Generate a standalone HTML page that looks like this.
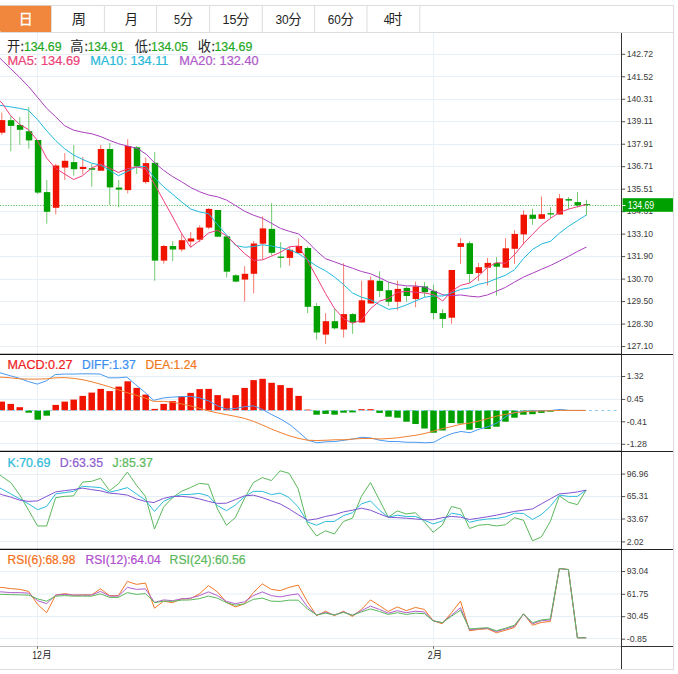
<!DOCTYPE html>
<html><head><meta charset="utf-8"><title>chart</title>
<style>html,body{margin:0;padding:0;background:#fff;}svg{display:block;}body{font-family:"Liberation Sans",sans-serif;}</style>
</head><body>
<svg width="678" height="674" viewBox="0 0 678 674" font-family="'Liberation Sans', 'Noto Sans CJK SC', sans-serif">
<rect x="0" y="0" width="678" height="674" fill="#ffffff" />
<line x1="0" y1="5.5" x2="674" y2="5.5" stroke="#dddddd" stroke-width="1" />
<line x1="673.5" y1="5" x2="673.5" y2="670" stroke="#dddddd" stroke-width="1" />
<line x1="0" y1="669.5" x2="674" y2="669.5" stroke="#dddddd" stroke-width="1" />
<line x1="0" y1="32.5" x2="674" y2="32.5" stroke="#dddddd" stroke-width="1" />
<path d="M0 5.8 H51.4 V31 Q51.4 32 50.4 32 H1.5 Q0 32 0 30.5 Z" fill="#f0873c"/>
<line x1="51.5" y1="6" x2="51.5" y2="32" stroke="#dddddd" stroke-width="1" />
<line x1="104.4" y1="6" x2="104.4" y2="32" stroke="#dddddd" stroke-width="1" />
<line x1="156.6" y1="6" x2="156.6" y2="32" stroke="#dddddd" stroke-width="1" />
<line x1="209.6" y1="6" x2="209.6" y2="32" stroke="#dddddd" stroke-width="1" />
<line x1="262.3" y1="6" x2="262.3" y2="32" stroke="#dddddd" stroke-width="1" />
<line x1="314.6" y1="6" x2="314.6" y2="32" stroke="#dddddd" stroke-width="1" />
<line x1="367" y1="6" x2="367" y2="32" stroke="#dddddd" stroke-width="1" />
<line x1="419.8" y1="6" x2="419.8" y2="32" stroke="#dddddd" stroke-width="1" />
<text x="18.73" y="24.2" font-size="14" fill="#ffffff" text-anchor="start" stroke="#ffffff" stroke-width="0.3">日</text>
<text x="71.82" y="24.2" font-size="14.2" fill="#222222" text-anchor="start">周</text>
<text x="124.72" y="24.2" font-size="13.3" fill="#222222" text-anchor="start">月</text>
<text x="179.7" y="23.9" font-size="13.4" fill="#222222" text-anchor="start">分</text>
<text x="174.1" y="24.3" font-size="12.8" fill="#222222" text-anchor="start" textLength="6" lengthAdjust="spacingAndGlyphs" >5</text>
<text x="236.1" y="23.9" font-size="13.4" fill="#222222" text-anchor="start">分</text>
<text x="222.5" y="24.3" font-size="12.8" fill="#222222" text-anchor="start" textLength="14" lengthAdjust="spacingAndGlyphs" >15</text>
<text x="288.3" y="23.9" font-size="13.4" fill="#222222" text-anchor="start">分</text>
<text x="275.4" y="24.3" font-size="12.8" fill="#222222" text-anchor="start" textLength="13.3" lengthAdjust="spacingAndGlyphs" >30</text>
<text x="340.4" y="23.9" font-size="13.4" fill="#222222" text-anchor="start">分</text>
<text x="327.8" y="24.3" font-size="12.8" fill="#222222" text-anchor="start" textLength="13" lengthAdjust="spacingAndGlyphs" >60</text>
<text x="388.55" y="24.05" font-size="13.8" fill="#222222" text-anchor="start">时</text>
<text x="383.7" y="24.3" font-size="12.8" fill="#222222" text-anchor="start" textLength="5.8" lengthAdjust="spacingAndGlyphs" >4</text>
<line x1="0" y1="54.5" x2="621" y2="54.5" stroke="#e6eff6" stroke-width="1" />
<line x1="0" y1="76.5" x2="621" y2="76.5" stroke="#e6eff6" stroke-width="1" />
<line x1="0" y1="99.5" x2="621" y2="99.5" stroke="#e6eff6" stroke-width="1" />
<line x1="0" y1="121.5" x2="621" y2="121.5" stroke="#e6eff6" stroke-width="1" />
<line x1="0" y1="144.5" x2="621" y2="144.5" stroke="#e6eff6" stroke-width="1" />
<line x1="0" y1="166.5" x2="621" y2="166.5" stroke="#e6eff6" stroke-width="1" />
<line x1="0" y1="189.5" x2="621" y2="189.5" stroke="#e6eff6" stroke-width="1" />
<line x1="0" y1="211.5" x2="621" y2="211.5" stroke="#e6eff6" stroke-width="1" />
<line x1="0" y1="234.5" x2="621" y2="234.5" stroke="#e6eff6" stroke-width="1" />
<line x1="0" y1="256.5" x2="621" y2="256.5" stroke="#e6eff6" stroke-width="1" />
<line x1="0" y1="279.5" x2="621" y2="279.5" stroke="#e6eff6" stroke-width="1" />
<line x1="0" y1="301.5" x2="621" y2="301.5" stroke="#e6eff6" stroke-width="1" />
<line x1="0" y1="324.5" x2="621" y2="324.5" stroke="#e6eff6" stroke-width="1" />
<line x1="0" y1="346.5" x2="621" y2="346.5" stroke="#e6eff6" stroke-width="1" />
<line x1="0" y1="376.5" x2="621" y2="376.5" stroke="#e6eff6" stroke-width="1" />
<line x1="0" y1="399.5" x2="621" y2="399.5" stroke="#e6eff6" stroke-width="1" />
<line x1="0" y1="421.5" x2="621" y2="421.5" stroke="#e6eff6" stroke-width="1" />
<line x1="0" y1="443.5" x2="621" y2="443.5" stroke="#e6eff6" stroke-width="1" />
<line x1="0" y1="474.5" x2="621" y2="474.5" stroke="#e6eff6" stroke-width="1" />
<line x1="0" y1="496.5" x2="621" y2="496.5" stroke="#e6eff6" stroke-width="1" />
<line x1="0" y1="519.5" x2="621" y2="519.5" stroke="#e6eff6" stroke-width="1" />
<line x1="0" y1="541.5" x2="621" y2="541.5" stroke="#e6eff6" stroke-width="1" />
<line x1="0" y1="571.5" x2="621" y2="571.5" stroke="#e6eff6" stroke-width="1" />
<line x1="0" y1="594" x2="621" y2="594" stroke="#e6eff6" stroke-width="1" />
<line x1="0" y1="616.5" x2="621" y2="616.5" stroke="#e6eff6" stroke-width="1" />
<line x1="0" y1="638.5" x2="621" y2="638.5" stroke="#e6eff6" stroke-width="1" />
<line x1="37.5" y1="33" x2="37.5" y2="646" stroke="#eaf2f8" stroke-width="1" />
<line x1="433.5" y1="33" x2="433.5" y2="646" stroke="#eaf2f8" stroke-width="1" />
<line x1="0" y1="205.5" x2="621" y2="205.5" stroke="#4cba4c" stroke-width="1" stroke-dasharray="1.05 1.63"/>
<line x1="1.8" y1="112.6" x2="1.8" y2="134.9" stroke="#f01400" stroke-width="1" stroke-opacity="0.56"/>
<rect x="-1.15" y="120.1" width="6.45" height="12.6" fill="#f01400" />
<line x1="10.79" y1="116" x2="10.79" y2="151.3" stroke="#00a000" stroke-width="1" stroke-opacity="0.56"/>
<rect x="7.84" y="120.2" width="6.45" height="5.7" fill="#00a000" />
<line x1="19.79" y1="117.1" x2="19.79" y2="144.8" stroke="#00a000" stroke-width="1" stroke-opacity="0.56"/>
<rect x="16.84" y="125" width="6.45" height="4.8" fill="#00a000" />
<line x1="28.79" y1="107" x2="28.79" y2="148.6" stroke="#00a000" stroke-width="1" stroke-opacity="0.56"/>
<rect x="25.84" y="131.2" width="6.45" height="9.2" fill="#00a000" />
<line x1="37.78" y1="140" x2="37.78" y2="194" stroke="#00a000" stroke-width="1" stroke-opacity="0.56"/>
<rect x="34.83" y="140" width="6.45" height="52.6" fill="#00a000" />
<line x1="46.77" y1="180" x2="46.77" y2="223.7" stroke="#00a000" stroke-width="1" stroke-opacity="0.56"/>
<rect x="43.82" y="192.1" width="6.45" height="19.7" fill="#00a000" />
<line x1="55.77" y1="163.8" x2="55.77" y2="214.3" stroke="#f01400" stroke-width="1" stroke-opacity="0.56"/>
<rect x="52.82" y="165.5" width="6.45" height="42.3" fill="#f01400" />
<line x1="64.77" y1="153.1" x2="64.77" y2="180" stroke="#f01400" stroke-width="1" stroke-opacity="0.56"/>
<rect x="61.81" y="160.8" width="6.45" height="6.8" fill="#f01400" />
<line x1="73.76" y1="145" x2="73.76" y2="175.7" stroke="#00a000" stroke-width="1" stroke-opacity="0.56"/>
<rect x="70.81" y="162.1" width="6.45" height="7.1" fill="#00a000" />
<line x1="82.75" y1="156.8" x2="82.75" y2="174.5" stroke="#f01400" stroke-width="1" stroke-opacity="0.56"/>
<rect x="79.8" y="166.9" width="6.45" height="2.1" fill="#f01400" />
<line x1="91.75" y1="163.6" x2="91.75" y2="186.6" stroke="#00a000" stroke-width="1" stroke-opacity="0.56"/>
<rect x="88.8" y="168.2" width="6.45" height="1.5" fill="#00a000" />
<line x1="100.74" y1="145" x2="100.74" y2="170.7" stroke="#f01400" stroke-width="1" stroke-opacity="0.56"/>
<rect x="97.79" y="149" width="6.45" height="21.7" fill="#f01400" />
<line x1="109.74" y1="143" x2="109.74" y2="204.8" stroke="#00a000" stroke-width="1" stroke-opacity="0.56"/>
<rect x="106.79" y="149" width="6.45" height="38.4" fill="#00a000" />
<line x1="118.73" y1="180" x2="118.73" y2="207.3" stroke="#00a000" stroke-width="1" stroke-opacity="0.56"/>
<rect x="115.78" y="187.6" width="6.45" height="2" fill="#00a000" />
<line x1="127.73" y1="139.2" x2="127.73" y2="193.4" stroke="#f01400" stroke-width="1" stroke-opacity="0.56"/>
<rect x="124.78" y="146" width="6.45" height="44.1" fill="#f01400" />
<line x1="136.72" y1="146" x2="136.72" y2="174" stroke="#00a000" stroke-width="1" stroke-opacity="0.56"/>
<rect x="133.78" y="147.3" width="6.45" height="19.1" fill="#00a000" />
<line x1="145.72" y1="157.6" x2="145.72" y2="183.8" stroke="#f01400" stroke-width="1" stroke-opacity="0.56"/>
<rect x="142.77" y="163.1" width="6.45" height="19" fill="#f01400" />
<line x1="154.72" y1="152" x2="154.72" y2="280.8" stroke="#00a000" stroke-width="1" stroke-opacity="0.56"/>
<rect x="151.77" y="162.8" width="6.45" height="97.8" fill="#00a000" />
<line x1="163.71" y1="244.8" x2="163.71" y2="263.7" stroke="#f01400" stroke-width="1" stroke-opacity="0.56"/>
<rect x="160.76" y="246" width="6.45" height="14.6" fill="#f01400" />
<line x1="172.7" y1="241" x2="172.7" y2="261.1" stroke="#00a000" stroke-width="1" stroke-opacity="0.56"/>
<rect x="169.75" y="246" width="6.45" height="3.5" fill="#00a000" />
<line x1="181.7" y1="233.4" x2="181.7" y2="251.6" stroke="#f01400" stroke-width="1" stroke-opacity="0.56"/>
<rect x="178.75" y="240.2" width="6.45" height="9.3" fill="#f01400" />
<line x1="190.69" y1="232.1" x2="190.69" y2="247.3" stroke="#f01400" stroke-width="1" stroke-opacity="0.56"/>
<rect x="187.75" y="238.4" width="6.45" height="3.1" fill="#f01400" />
<line x1="199.69" y1="225.3" x2="199.69" y2="242.2" stroke="#f01400" stroke-width="1" stroke-opacity="0.56"/>
<rect x="196.74" y="227.6" width="6.45" height="12.1" fill="#f01400" />
<line x1="208.69" y1="208.2" x2="208.69" y2="229.1" stroke="#f01400" stroke-width="1" stroke-opacity="0.56"/>
<rect x="205.74" y="208.9" width="6.45" height="18.7" fill="#f01400" />
<line x1="217.68" y1="210" x2="217.68" y2="237.2" stroke="#00a000" stroke-width="1" stroke-opacity="0.56"/>
<rect x="214.73" y="210" width="6.45" height="26.7" fill="#00a000" />
<line x1="226.67" y1="235.4" x2="226.67" y2="277.5" stroke="#00a000" stroke-width="1" stroke-opacity="0.56"/>
<rect x="223.72" y="236.4" width="6.45" height="35.3" fill="#00a000" />
<line x1="235.67" y1="274.3" x2="235.67" y2="282.1" stroke="#00a000" stroke-width="1" stroke-opacity="0.56"/>
<rect x="232.72" y="275.3" width="6.45" height="6.3" fill="#00a000" />
<line x1="244.66" y1="266.2" x2="244.66" y2="301.5" stroke="#f01400" stroke-width="1" stroke-opacity="0.56"/>
<rect x="241.72" y="273.8" width="6.45" height="5.8" fill="#f01400" />
<line x1="253.66" y1="241" x2="253.66" y2="293.4" stroke="#f01400" stroke-width="1" stroke-opacity="0.56"/>
<rect x="250.71" y="243.5" width="6.45" height="30.3" fill="#f01400" />
<line x1="262.65" y1="216.3" x2="262.65" y2="259.9" stroke="#f01400" stroke-width="1" stroke-opacity="0.56"/>
<rect x="259.7" y="228.4" width="6.45" height="15.3" fill="#f01400" />
<line x1="271.65" y1="203.1" x2="271.65" y2="255.3" stroke="#00a000" stroke-width="1" stroke-opacity="0.56"/>
<rect x="268.7" y="228.9" width="6.45" height="23.9" fill="#00a000" />
<line x1="280.64" y1="242.2" x2="280.64" y2="267.7" stroke="#00a000" stroke-width="1" stroke-opacity="0.56"/>
<rect x="277.69" y="256.6" width="6.45" height="1.3" fill="#00a000" />
<line x1="289.64" y1="246.5" x2="289.64" y2="265.7" stroke="#f01400" stroke-width="1" stroke-opacity="0.56"/>
<rect x="286.69" y="249.8" width="6.45" height="8.1" fill="#f01400" />
<line x1="298.63" y1="238.4" x2="298.63" y2="253.1" stroke="#f01400" stroke-width="1" stroke-opacity="0.56"/>
<rect x="295.69" y="246" width="6.45" height="7.1" fill="#f01400" />
<line x1="307.63" y1="246.3" x2="307.63" y2="313.1" stroke="#00a000" stroke-width="1" stroke-opacity="0.56"/>
<rect x="304.68" y="248" width="6.45" height="58.8" fill="#00a000" />
<line x1="316.62" y1="303" x2="316.62" y2="339.6" stroke="#00a000" stroke-width="1" stroke-opacity="0.56"/>
<rect x="313.68" y="306" width="6.45" height="26.5" fill="#00a000" />
<line x1="325.62" y1="313.1" x2="325.62" y2="343.9" stroke="#f01400" stroke-width="1" stroke-opacity="0.56"/>
<rect x="322.67" y="321.2" width="6.45" height="13.4" fill="#f01400" />
<line x1="334.62" y1="308" x2="334.62" y2="329.5" stroke="#00a000" stroke-width="1" stroke-opacity="0.56"/>
<rect x="331.67" y="321.2" width="6.45" height="7.1" fill="#00a000" />
<line x1="343.61" y1="263.2" x2="343.61" y2="337.6" stroke="#f01400" stroke-width="1" stroke-opacity="0.56"/>
<rect x="340.66" y="314.1" width="6.45" height="15.4" fill="#f01400" />
<line x1="352.6" y1="313.1" x2="352.6" y2="333.8" stroke="#00a000" stroke-width="1" stroke-opacity="0.56"/>
<rect x="349.65" y="314.1" width="6.45" height="8.4" fill="#00a000" />
<line x1="361.6" y1="280.8" x2="361.6" y2="322.5" stroke="#f01400" stroke-width="1" stroke-opacity="0.56"/>
<rect x="358.65" y="300.3" width="6.45" height="22.2" fill="#f01400" />
<line x1="370.59" y1="276.6" x2="370.59" y2="303.5" stroke="#f01400" stroke-width="1" stroke-opacity="0.56"/>
<rect x="367.64" y="280.3" width="6.45" height="23.2" fill="#f01400" />
<line x1="379.59" y1="271.3" x2="379.59" y2="297.2" stroke="#00a000" stroke-width="1" stroke-opacity="0.56"/>
<rect x="376.64" y="280.8" width="6.45" height="10.1" fill="#00a000" />
<line x1="388.58" y1="282.1" x2="388.58" y2="306.1" stroke="#00a000" stroke-width="1" stroke-opacity="0.56"/>
<rect x="385.63" y="290.2" width="6.45" height="11.6" fill="#00a000" />
<line x1="397.58" y1="280.8" x2="397.58" y2="310.3" stroke="#f01400" stroke-width="1" stroke-opacity="0.56"/>
<rect x="394.63" y="288.9" width="6.45" height="12.9" fill="#f01400" />
<line x1="406.57" y1="286.6" x2="406.57" y2="301.8" stroke="#00a000" stroke-width="1" stroke-opacity="0.56"/>
<rect x="403.62" y="287.9" width="6.45" height="8.1" fill="#00a000" />
<line x1="415.57" y1="281.6" x2="415.57" y2="307.3" stroke="#f01400" stroke-width="1" stroke-opacity="0.56"/>
<rect x="412.62" y="286.4" width="6.45" height="12.6" fill="#f01400" />
<line x1="424.56" y1="282.1" x2="424.56" y2="297.2" stroke="#00a000" stroke-width="1" stroke-opacity="0.56"/>
<rect x="421.62" y="286.4" width="6.45" height="5.8" fill="#00a000" />
<line x1="433.56" y1="284.6" x2="433.56" y2="319.4" stroke="#00a000" stroke-width="1" stroke-opacity="0.56"/>
<rect x="430.61" y="290.9" width="6.45" height="22.2" fill="#00a000" />
<line x1="442.55" y1="309.1" x2="442.55" y2="328" stroke="#00a000" stroke-width="1" stroke-opacity="0.56"/>
<rect x="439.6" y="313.1" width="6.45" height="5.8" fill="#00a000" />
<line x1="451.55" y1="270" x2="451.55" y2="323.8" stroke="#f01400" stroke-width="1" stroke-opacity="0.56"/>
<rect x="448.6" y="270" width="6.45" height="47.7" fill="#f01400" />
<line x1="460.54" y1="238.1" x2="460.54" y2="263.9" stroke="#f01400" stroke-width="1" stroke-opacity="0.56"/>
<rect x="457.59" y="243.1" width="6.45" height="3.8" fill="#f01400" />
<line x1="469.54" y1="241.2" x2="469.54" y2="283.1" stroke="#00a000" stroke-width="1" stroke-opacity="0.56"/>
<rect x="466.59" y="243.2" width="6.45" height="30.8" fill="#00a000" />
<line x1="478.53" y1="262.9" x2="478.53" y2="281.1" stroke="#f01400" stroke-width="1" stroke-opacity="0.56"/>
<rect x="475.58" y="267.2" width="6.45" height="5.8" fill="#f01400" />
<line x1="487.53" y1="257.9" x2="487.53" y2="285.6" stroke="#f01400" stroke-width="1" stroke-opacity="0.56"/>
<rect x="484.58" y="262.9" width="6.45" height="4.8" fill="#f01400" />
<line x1="496.52" y1="257.1" x2="496.52" y2="295.7" stroke="#00a000" stroke-width="1" stroke-opacity="0.56"/>
<rect x="493.57" y="262.9" width="6.45" height="3.8" fill="#00a000" />
<line x1="505.52" y1="238.2" x2="505.52" y2="267.7" stroke="#f01400" stroke-width="1" stroke-opacity="0.56"/>
<rect x="502.57" y="248.3" width="6.45" height="19.4" fill="#f01400" />
<line x1="514.51" y1="230.1" x2="514.51" y2="263.9" stroke="#f01400" stroke-width="1" stroke-opacity="0.56"/>
<rect x="511.56" y="233.9" width="6.45" height="14.9" fill="#f01400" />
<line x1="523.51" y1="210.4" x2="523.51" y2="244.5" stroke="#f01400" stroke-width="1" stroke-opacity="0.56"/>
<rect x="520.56" y="214.7" width="6.45" height="19.7" fill="#f01400" />
<line x1="532.5" y1="208.7" x2="532.5" y2="224.8" stroke="#00a000" stroke-width="1" stroke-opacity="0.56"/>
<rect x="529.55" y="214.7" width="6.45" height="4.1" fill="#00a000" />
<line x1="541.5" y1="196.6" x2="541.5" y2="218.8" stroke="#f01400" stroke-width="1" stroke-opacity="0.56"/>
<rect x="538.55" y="214.2" width="6.45" height="4.6" fill="#f01400" />
<line x1="550.49" y1="207.2" x2="550.49" y2="218" stroke="#00a000" stroke-width="1" stroke-opacity="0.56"/>
<rect x="547.54" y="213.2" width="6.45" height="1.3" fill="#00a000" />
<line x1="559.49" y1="194" x2="559.49" y2="214.5" stroke="#f01400" stroke-width="1" stroke-opacity="0.56"/>
<rect x="556.54" y="198.3" width="6.45" height="16.2" fill="#f01400" />
<line x1="568.48" y1="197.1" x2="568.48" y2="209.2" stroke="#00a000" stroke-width="1" stroke-opacity="0.56"/>
<rect x="565.53" y="199.1" width="6.45" height="1.5" fill="#00a000" />
<line x1="577.48" y1="192" x2="577.48" y2="207.4" stroke="#00a000" stroke-width="1" stroke-opacity="0.56"/>
<rect x="574.53" y="202.1" width="6.45" height="3.3" fill="#00a000" />
<line x1="586.47" y1="199.8" x2="586.47" y2="215.5" stroke="#00a000" stroke-width="1" stroke-opacity="0.56"/>
<rect x="583.52" y="204.1" width="6.45" height="1" fill="#00a000" />
<polyline points="0,58.2 10.7,68.7 19.1,76.8 28.5,86.5 37.8,97.6 46.7,108.3 55.64,116.77 64.54,125.67 73.44,130.12 83.09,132.34 91.99,133.83 100.88,136.66 109.71,140.44 118.54,143.72 127.36,145.99 137.45,148.51 146.28,154.31 154.54,162.79 163.62,170.35 172.7,176.66 181.53,181.7 190.61,187.5 199.68,191.79 208.76,195.07 217.59,196.83 226.67,200.11 235.75,205.66 244.58,211.21 253.66,215.25 262.48,218.27 271.56,223.32 280.39,228.36 289.47,231.39 298.55,233.91 307.57,241.75 316.65,251.08 325.47,258.64 334.55,261.92 343.63,265.2 352.46,268.23 361.54,271.51 370.62,273.78 379.7,277.81 388.52,282.1 397.6,284.62 406.68,285.88 415.51,285.88 424.59,287.14 433.67,290.93 442.75,294.71 451.51,295.69 460.59,294.93 469.67,296.19 478.5,296.95 487.58,294.93 496.66,291.15 505.49,287.36 514.56,282.07 523.64,277.02 532.47,273.24 541.55,269.21 550.63,265.42 559.46,261.01 568.54,256.34 577.62,251.42 586.44,247.01" fill="none" stroke="#aa3fbe" stroke-width="1" stroke-linejoin="round" />
<polyline points="0,105.34 10.39,106.82 19.29,108.31 28.19,110.09 37.54,119.73 46.74,130.86 55.64,140.5 64.54,148.66 73.64,155.07 82.47,159.36 91.55,163.14 100.63,165.16 109.46,170.2 118.54,175.75 127.62,171.21 136.44,166.92 145.52,166.42 154.54,177.92 163.62,186.75 172.7,194.31 181.53,201.88 190.61,208.94 199.68,211.97 208.76,213.73 217.59,224.83 226.67,235.17 235.75,245.51 244.58,247.28 253.66,246.52 262.48,244.75 271.56,246.02 280.39,247.78 289.47,249.8 298.55,253.58 307.57,259.91 316.65,266.21 325.47,270.75 334.55,277.06 343.63,284.62 352.46,292.94 361.54,297.23 370.62,299.75 379.7,304.8 388.52,309.34 397.6,308.08 406.68,304.8 415.51,301.02 424.59,297.23 433.67,295.97 442.75,295.97 451.51,292.91 460.59,289.38 469.67,287.87 478.5,284.34 487.58,282.32 496.66,278.54 505.49,275.26 514.56,269.71 523.64,258.36 532.47,249.53 541.55,243.98 550.63,241.21 559.46,233.14 568.54,226.33 577.62,220.53 586.44,214.98" fill="none" stroke="#1eb9dc" stroke-width="1" stroke-linejoin="round" />
<polyline points="0,101.19 1.78,102.67 10.39,115.28 19.29,124.18 28.19,129.38 37.54,140.5 46.66,158.1 55.49,168.18 64.56,173.98 73.64,179.53 82.47,175.75 91.55,168.18 100.63,163.9 109.46,168.18 118.54,172.47 127.62,168.69 136.44,166.92 145.52,168.69 154.54,184.22 163.62,200.62 172.7,217.01 181.53,233.4 190.61,247.28 199.68,240.47 208.76,232.9 217.59,230.38 226.67,235.93 235.75,244.75 244.58,253.58 253.66,260.39 262.48,259.89 271.56,256.1 280.39,252.32 289.47,246.77 298.55,246.02 307.57,260.66 316.65,277.06 325.47,293.45 334.55,308.58 343.63,318.67 352.46,323.21 361.54,319.93 370.62,308.58 379.7,301.02 388.52,298.49 397.6,292.19 406.68,291.43 415.51,292.19 424.59,292.94 433.67,294.71 442.75,301.02 451.51,291.15 460.59,285.35 469.67,283.08 478.5,276.02 487.58,267.19 496.66,262.65 505.49,263.4 514.56,254.58 523.64,243.48 532.47,234.4 541.55,225.07 550.63,218.26 559.46,212.46 568.54,209.18 577.62,206.66 586.44,204.64" fill="none" stroke="#ee3d7f" stroke-width="1" stroke-linejoin="round" />
<rect x="-1.5" y="401.6" width="6.5" height="8.8" fill="#f01400" />
<rect x="7.5" y="403.9" width="6.5" height="6.5" fill="#f01400" />
<rect x="16.49" y="407.2" width="6.5" height="3.2" fill="#f01400" />
<rect x="25.48" y="410.4" width="6.5" height="2.3" fill="#00a000" />
<rect x="34.48" y="410.4" width="6.5" height="9.3" fill="#00a000" />
<rect x="43.47" y="410.4" width="6.5" height="5.3" fill="#00a000" />
<rect x="52.47" y="404.9" width="6.5" height="5.5" fill="#f01400" />
<rect x="61.47" y="401.6" width="6.5" height="8.8" fill="#f01400" />
<rect x="70.46" y="399.6" width="6.5" height="10.8" fill="#f01400" />
<rect x="79.45" y="395.9" width="6.5" height="14.5" fill="#f01400" />
<rect x="88.45" y="392.6" width="6.5" height="17.8" fill="#f01400" />
<rect x="97.44" y="388.9" width="6.5" height="21.5" fill="#f01400" />
<rect x="106.44" y="391.1" width="6.5" height="19.3" fill="#f01400" />
<rect x="115.43" y="386.6" width="6.5" height="23.8" fill="#f01400" />
<rect x="124.43" y="381.3" width="6.5" height="29.1" fill="#f01400" />
<rect x="133.42" y="387.9" width="6.5" height="22.5" fill="#f01400" />
<rect x="142.42" y="394.6" width="6.5" height="15.8" fill="#f01400" />
<rect x="151.41" y="408.9" width="6.5" height="1.5" fill="#f01400" />
<rect x="160.41" y="403.9" width="6.5" height="6.5" fill="#f01400" />
<rect x="169.4" y="401.1" width="6.5" height="9.3" fill="#f01400" />
<rect x="178.4" y="396.4" width="6.5" height="14" fill="#f01400" />
<rect x="187.39" y="392.9" width="6.5" height="17.5" fill="#f01400" />
<rect x="196.39" y="389.1" width="6.5" height="21.3" fill="#f01400" />
<rect x="205.38" y="388.9" width="6.5" height="21.5" fill="#f01400" />
<rect x="214.38" y="395.1" width="6.5" height="15.3" fill="#f01400" />
<rect x="223.37" y="398.4" width="6.5" height="12" fill="#f01400" />
<rect x="232.37" y="395.1" width="6.5" height="15.3" fill="#f01400" />
<rect x="241.36" y="387.9" width="6.5" height="22.5" fill="#f01400" />
<rect x="250.36" y="380.1" width="6.5" height="30.3" fill="#f01400" />
<rect x="259.35" y="378.8" width="6.5" height="31.6" fill="#f01400" />
<rect x="268.35" y="382.8" width="6.5" height="27.6" fill="#f01400" />
<rect x="277.34" y="385.1" width="6.5" height="25.3" fill="#f01400" />
<rect x="286.34" y="387.9" width="6.5" height="22.5" fill="#f01400" />
<rect x="295.33" y="395.9" width="6.5" height="14.5" fill="#f01400" />
<rect x="304.33" y="409.6" width="6.5" height="0.8" fill="#f01400" />
<rect x="313.32" y="410.4" width="6.5" height="4.3" fill="#00a000" />
<rect x="322.32" y="410.4" width="6.5" height="3.5" fill="#00a000" />
<rect x="331.31" y="410.4" width="6.5" height="4.3" fill="#00a000" />
<rect x="340.31" y="410.4" width="6.5" height="2.3" fill="#00a000" />
<rect x="349.3" y="410.4" width="6.5" height="2" fill="#00a000" />
<rect x="358.3" y="409.2" width="6.5" height="1.2" fill="#f01400" />
<rect x="367.29" y="409.2" width="6.5" height="1.2" fill="#f01400" />
<rect x="376.29" y="410.4" width="6.5" height="2.5" fill="#00a000" />
<rect x="385.28" y="410.4" width="6.5" height="6.3" fill="#00a000" />
<rect x="394.28" y="410.4" width="6.5" height="7.3" fill="#00a000" />
<rect x="403.27" y="410.4" width="6.5" height="11.3" fill="#00a000" />
<rect x="412.27" y="410.4" width="6.5" height="13.6" fill="#00a000" />
<rect x="421.26" y="410.4" width="6.5" height="18.1" fill="#00a000" />
<rect x="430.26" y="410.4" width="6.5" height="22.3" fill="#00a000" />
<rect x="439.25" y="410.4" width="6.5" height="20.1" fill="#00a000" />
<rect x="448.25" y="410.4" width="6.5" height="12.6" fill="#00a000" />
<rect x="457.24" y="410.4" width="6.5" height="13.1" fill="#00a000" />
<rect x="466.24" y="410.4" width="6.5" height="19.3" fill="#00a000" />
<rect x="475.23" y="410.4" width="6.5" height="17.6" fill="#00a000" />
<rect x="484.23" y="410.4" width="6.5" height="18.6" fill="#00a000" />
<rect x="493.22" y="410.4" width="6.5" height="16.3" fill="#00a000" />
<rect x="502.22" y="410.4" width="6.5" height="11.3" fill="#00a000" />
<rect x="511.21" y="410.4" width="6.5" height="7.3" fill="#00a000" />
<rect x="520.21" y="410.4" width="6.5" height="4.3" fill="#00a000" />
<rect x="529.2" y="410.4" width="6.5" height="3.8" fill="#00a000" />
<rect x="538.2" y="410.4" width="6.5" height="2.5" fill="#00a000" />
<rect x="547.19" y="410.4" width="6.5" height="1.3" fill="#00a000" />
<line x1="0" y1="410.5" x2="620" y2="410.5" stroke="#86cbec" stroke-width="1" stroke-dasharray="2.8 3.4"/>
<polyline points="0,372.81 10.53,375.82 19.56,378.33 28.34,381.59 37.36,384.1 46.39,380.84 55.17,374.57 64.19,374.07 73.22,374.07 82,373.82 91.02,373.82 100.05,374.07 108.83,377.83 117.85,377.83 126.88,377.08 135.66,384.6 144.68,392.12 153.71,400.4 154.51,400.14 163.54,397.89 172.57,397.14 181.59,396.63 190.62,396.38 199.65,397.89 208.68,400.9 217.7,405.91 226.73,409.17 235.76,408.42 244.78,406.66 253.81,405.91 262.84,409.67 271.87,414.69 280.89,419.2 289.92,424.72 298.95,432.24 308.02,440.26 317.05,442.77 326.08,441.77 335.11,441.52 344.13,440.26 353.16,439.01 361.94,437.26 370.96,438.01 379.99,440.26 389.02,441.52 397.79,441.52 406.82,442.27 415.85,442.27 424.87,442.77 433.9,442.27 442.93,437.26 452.01,433.49 461.03,431.49 470.06,432.74 479.09,429.23 488.11,426.72 497.14,422.96 506.17,416.44 515.2,412.18 524.22,411.43 533.25,410.93 542.28,410.68 551.3,410.43 560.33,409.42 569.36,410.43 585.66,410.43" fill="none" stroke="#4a9af0" stroke-width="1" stroke-linejoin="round" />
<polyline points="0,377.08 10.53,377.83 19.56,378.83 28.34,379.08 37.36,379.08 46.39,378.83 55.17,377.83 64.19,377.58 73.22,378.33 82,379.58 91.02,381.59 100.05,384.1 108.83,386.6 117.85,389.61 126.88,392.62 135.66,395.13 144.68,397.89 153.71,401.4 154.51,401.4 163.54,401.4 172.57,402.15 181.59,403.91 190.62,405.91 199.65,408.42 208.68,410.93 217.7,412.93 226.73,414.69 235.76,416.44 244.78,418.45 253.81,421.46 262.84,425.22 271.87,429.23 280.89,432.74 289.92,436 298.95,438.51 308.02,440.26 317.05,440.52 326.08,440.26 335.11,439.76 344.13,439.76 353.16,439.01 361.94,438.51 370.96,438.51 379.99,439.01 389.02,438.51 397.79,437.76 406.82,436.5 415.85,435.25 424.87,433.49 433.9,430.99 442.93,428.48 452.01,426.47 461.03,424.22 470.06,422.96 479.09,420.96 488.11,418.45 497.14,415.94 506.17,414.19 515.2,412.68 524.22,411.68 533.25,411.18 542.28,410.93 551.3,410.68 560.33,410.43 569.36,410.43 585.66,410.43" fill="none" stroke="#f08030" stroke-width="1" stroke-linejoin="round" />
<polyline points="0,475.08 1.76,476.33 10.78,482.6 19.81,495.14 28.59,510.18 37.61,525.98 46.64,525.98 55.67,497.64 64.69,496.39 73.47,495.89 82.5,482.1 91.52,481.34 100.55,478.34 109.58,490.62 118.36,483.85 127.38,472.07 136.41,485.11 145.44,496.39 154.46,528.99 154.51,528.99 163.54,507.17 172.57,497.64 181.34,491.37 190.37,487.61 199.4,483.35 208.43,484.35 217.45,508.93 226.48,525.23 235.26,517.7 244.28,498.9 253.31,482.6 262.34,477.58 271.36,480.59 280.14,470.81 289.17,473.32 298.19,488.87 307.52,523.97 316.55,536.01 325.58,530.74 334.35,534 343.38,521.46 352.41,518.2 361.43,496.39 370.46,482.6 379.49,500.15 388.26,517.2 397.29,510.93 406.32,513.94 415.35,512.69 424.37,521.97 433.15,532.25 442.18,525.23 451.5,506.42 460.53,508.93 469.56,528.49 478.59,525.23 487.61,524.47 496.39,525.98 505.42,524.72 514.44,517.7 523.47,520.21 532.5,540.77 541.27,537.01 550.3,521.46 559.33,495.89 568.36,502.16 577.38,504.66 586.16,490.12" fill="none" stroke="#5cb85c" stroke-width="1" stroke-linejoin="round" />
<polyline points="0,488.11 1.76,488.87 10.78,493.88 19.81,498.9 28.59,503.91 37.61,509.68 46.64,506.42 55.67,493.88 64.69,492.63 73.47,491.37 82.5,486.36 91.52,486.86 100.55,487.61 109.58,492.13 118.36,490.12 127.38,487.61 136.41,493.88 145.44,500.15 154.46,511.43 154.51,511.43 163.54,501.4 172.57,497.14 181.34,494.63 190.37,494.38 199.4,493.38 208.43,495.89 217.45,505.67 226.48,510.68 235.26,505.17 244.28,496.89 253.31,491.37 262.34,491.37 271.36,494.63 280.14,493.13 289.17,497.64 298.19,506.92 307.52,521.97 316.55,525.23 325.58,521.46 334.35,521.46 343.38,515.7 352.41,512.69 361.43,503.91 370.46,500.9 379.49,510.18 388.26,517.2 397.29,515.2 406.32,516.45 415.35,516.45 424.37,520.21 433.15,523.97 442.18,520.96 451.5,513.19 460.53,514.69 469.56,522.22 478.59,520.21 487.61,518.96 496.39,518.46 505.42,516.95 514.44,513.19 523.47,513.44 532.5,519.46 541.27,514.69 550.3,506.42 559.33,495.14 568.36,496.39 577.38,496.39 586.16,490.12" fill="none" stroke="#2ebbd9" stroke-width="1" stroke-linejoin="round" />
<polyline points="0,493.88 1.76,494.63 10.78,497.14 19.81,500.15 28.59,501.4 37.61,500.9 46.64,496.39 55.67,491.88 64.69,490.62 73.47,489.62 82.5,488.11 91.52,489.62 100.55,490.87 109.58,493.13 118.36,493.88 127.38,495.14 136.41,498.9 145.44,501.4 154.46,502.66 154.51,502.16 163.54,498.4 172.57,496.39 181.34,496.39 190.37,497.14 199.4,498.9 208.43,501.4 217.45,503.41 226.48,503.16 235.26,499.65 244.28,495.89 253.31,495.14 262.34,497.64 271.36,500.9 280.14,503.91 289.17,508.93 298.19,514.69 307.52,520.21 316.55,518.96 325.58,516.45 334.35,514.69 343.38,511.94 352.41,510.18 361.43,508.17 370.46,510.18 379.49,513.94 388.26,517.2 397.29,517.7 406.32,518.2 415.35,518.96 424.37,519.71 433.15,519.71 442.18,517.7 451.5,516.45 460.53,517.2 469.56,519.46 478.59,518.2 487.61,516.7 496.39,515.2 505.42,513.19 514.44,511.43 523.47,510.18 532.5,508.93 541.27,503.91 550.3,498.9 559.33,493.88 568.36,493.13 577.38,491.88 586.16,490.12" fill="none" stroke="#8252cf" stroke-width="1" stroke-linejoin="round" />
<polyline points="0,587.62 1.76,587.37 10.78,588.62 19.81,589.37 28.59,591.38 37.61,604.42 46.64,612.69 55.67,595.14 64.69,593.64 73.47,595.14 82.5,594.89 91.52,594.89 100.55,588.87 109.58,595.64 118.36,595.64 127.38,581.35 136.41,584.36 145.44,583.11 154.46,608.18 154.51,608.18 163.54,601.16 172.57,602.66 181.34,598.9 190.37,598.65 199.4,593.89 208.43,585.61 217.45,591.88 226.48,602.41 235.26,606.93 244.28,603.92 253.31,592.63 262.34,583.86 271.36,589.37 280.14,590.63 289.17,587.37 298.19,585.11 307.52,601.91 316.55,615.7 325.58,611.19 334.35,615.7 343.38,611.19 352.41,616.46 361.43,609.43 370.46,599.91 379.49,605.67 388.26,611.44 397.29,606.93 406.32,610.69 415.35,607.43 424.37,609.43 433.15,620.72 442.18,623.73 451.5,612.69 460.53,601.16 469.56,630.75 478.59,629.49 487.61,628.74 496.39,632.75 505.42,630.25 514.44,627.49 523.47,613.95 532.5,625.23 541.27,622.47 550.3,621.47 559.33,568.56 568.36,569.56 577.38,637.77 586.16,637.77" fill="none" stroke="#f07828" stroke-width="1" stroke-linejoin="round" />
<polyline points="0,591.88 1.76,591.88 10.78,592.63 19.81,592.63 28.59,593.14 37.61,600.66 46.64,603.67 55.67,595.14 64.69,594.39 73.47,595.14 82.5,595.14 91.52,595.14 100.55,591.38 109.58,596.14 118.36,596.14 127.38,587.37 136.41,589.37 145.44,588.87 154.46,602.41 154.51,602.41 163.54,599.91 172.57,600.66 181.34,598.9 190.37,598.15 199.4,595.64 208.43,591.88 217.45,595.64 226.48,601.41 235.26,603.67 244.28,601.91 253.31,595.64 262.34,591.88 271.36,595.64 280.14,596.9 289.17,595.14 298.19,593.89 307.52,606.93 316.55,614.95 325.58,612.44 334.35,614.95 343.38,611.94 352.41,615.2 361.43,610.69 370.46,606.17 379.49,609.43 388.26,613.2 397.29,610.69 406.32,612.69 415.35,611.19 424.37,611.94 433.15,620.72 442.18,622.72 451.5,615.2 460.53,607.68 469.56,629.75 478.59,628.74 487.61,628.24 496.39,631.5 505.42,628.99 514.44,626.23 523.47,613.95 532.5,623.73 541.27,620.72 550.3,619.97 559.33,568.56 568.36,569.56 577.38,637.77 586.16,637.77" fill="none" stroke="#b25fcb" stroke-width="1" stroke-linejoin="round" />
<polyline points="0,594.39 1.76,594.39 10.78,594.64 19.81,594.89 28.59,595.14 37.61,598.9 46.64,601.16 55.67,596.14 64.69,595.64 73.47,596.14 82.5,596.14 91.52,596.14 100.55,593.89 109.58,597.4 118.36,597.4 127.38,592.63 136.41,594.39 145.44,593.64 154.46,602.41 154.51,602.66 163.54,601.16 172.57,601.41 181.34,600.16 190.37,599.91 199.4,598.65 208.43,596.14 217.45,598.15 226.48,602.66 235.26,605.17 244.28,603.92 253.31,599.4 262.34,598.15 271.36,601.16 280.14,601.41 289.17,600.16 298.19,600.16 307.52,608.93 316.55,614.95 325.58,613.2 334.35,614.95 343.38,612.44 352.41,615.2 361.43,611.94 370.46,608.93 379.49,611.44 388.26,614.45 397.29,612.69 406.32,614.45 415.35,613.2 424.37,613.7 433.15,620.72 442.18,622.72 451.5,616.2 460.53,610.19 469.56,628.99 478.59,628.24 487.61,627.74 496.39,630.75 505.42,628.24 514.44,625.23 523.47,613.95 532.5,622.72 541.27,619.97 550.3,618.96 559.33,568.56 568.36,569.56 577.38,637.77 586.16,637.77" fill="none" stroke="#5cb85c" stroke-width="1" stroke-linejoin="round" />
<line x1="621.5" y1="33" x2="621.5" y2="669" stroke="#333333" stroke-width="1" />
<line x1="0" y1="354.45" x2="621" y2="354.45" stroke="#111111" stroke-width="1.3" />
<line x1="621" y1="354.5" x2="673" y2="354.5" stroke="#222222" stroke-width="1" />
<line x1="0" y1="451.45" x2="621" y2="451.45" stroke="#111111" stroke-width="1.3" />
<line x1="621" y1="451.5" x2="673" y2="451.5" stroke="#222222" stroke-width="1" />
<line x1="0" y1="549.45" x2="621" y2="549.45" stroke="#111111" stroke-width="1.3" />
<line x1="621" y1="549.5" x2="673" y2="549.5" stroke="#222222" stroke-width="1" />
<line x1="0" y1="646.5" x2="621" y2="646.5" stroke="#c4c4c4" stroke-width="1" />
<line x1="621" y1="646.5" x2="673" y2="646.5" stroke="#333333" stroke-width="1" />
<line x1="622" y1="54.3" x2="625.2" y2="54.3" stroke="#555555" stroke-width="1" />
<text x="626.7" y="57.05" font-size="9.6" fill="#3a3a3a" text-anchor="start" textLength="26.35" lengthAdjust="spacingAndGlyphs" >142.72</text>
<line x1="622" y1="76.78" x2="625.2" y2="76.78" stroke="#555555" stroke-width="1" />
<text x="626.7" y="79.53" font-size="9.6" fill="#3a3a3a" text-anchor="start" textLength="26.35" lengthAdjust="spacingAndGlyphs" >141.52</text>
<line x1="622" y1="99.26" x2="625.2" y2="99.26" stroke="#555555" stroke-width="1" />
<text x="626.7" y="102.01" font-size="9.6" fill="#3a3a3a" text-anchor="start" textLength="26.35" lengthAdjust="spacingAndGlyphs" >140.31</text>
<line x1="622" y1="121.74" x2="625.2" y2="121.74" stroke="#555555" stroke-width="1" />
<text x="626.7" y="124.49" font-size="9.6" fill="#3a3a3a" text-anchor="start" textLength="26.35" lengthAdjust="spacingAndGlyphs" >139.11</text>
<line x1="622" y1="144.22" x2="625.2" y2="144.22" stroke="#555555" stroke-width="1" />
<text x="626.7" y="146.97" font-size="9.6" fill="#3a3a3a" text-anchor="start" textLength="26.35" lengthAdjust="spacingAndGlyphs" >137.91</text>
<line x1="622" y1="166.7" x2="625.2" y2="166.7" stroke="#555555" stroke-width="1" />
<text x="626.7" y="169.45" font-size="9.6" fill="#3a3a3a" text-anchor="start" textLength="26.35" lengthAdjust="spacingAndGlyphs" >136.71</text>
<line x1="622" y1="189.18" x2="625.2" y2="189.18" stroke="#555555" stroke-width="1" />
<text x="626.7" y="191.93" font-size="9.6" fill="#3a3a3a" text-anchor="start" textLength="26.35" lengthAdjust="spacingAndGlyphs" >135.51</text>
<line x1="622" y1="211.66" x2="625.2" y2="211.66" stroke="#555555" stroke-width="1" />
<text x="626.7" y="214.41" font-size="9.6" fill="#3a3a3a" text-anchor="start" textLength="26.35" lengthAdjust="spacingAndGlyphs" >134.31</text>
<line x1="622" y1="234.14" x2="625.2" y2="234.14" stroke="#555555" stroke-width="1" />
<text x="626.7" y="236.89" font-size="9.6" fill="#3a3a3a" text-anchor="start" textLength="26.35" lengthAdjust="spacingAndGlyphs" >133.10</text>
<line x1="622" y1="256.62" x2="625.2" y2="256.62" stroke="#555555" stroke-width="1" />
<text x="626.7" y="259.37" font-size="9.6" fill="#3a3a3a" text-anchor="start" textLength="26.35" lengthAdjust="spacingAndGlyphs" >131.90</text>
<line x1="622" y1="279.1" x2="625.2" y2="279.1" stroke="#555555" stroke-width="1" />
<text x="626.7" y="281.85" font-size="9.6" fill="#3a3a3a" text-anchor="start" textLength="26.35" lengthAdjust="spacingAndGlyphs" >130.70</text>
<line x1="622" y1="301.58" x2="625.2" y2="301.58" stroke="#555555" stroke-width="1" />
<text x="626.7" y="304.33" font-size="9.6" fill="#3a3a3a" text-anchor="start" textLength="26.35" lengthAdjust="spacingAndGlyphs" >129.50</text>
<line x1="622" y1="324.06" x2="625.2" y2="324.06" stroke="#555555" stroke-width="1" />
<text x="626.7" y="326.81" font-size="9.6" fill="#3a3a3a" text-anchor="start" textLength="26.35" lengthAdjust="spacingAndGlyphs" >128.30</text>
<line x1="622" y1="346.54" x2="625.2" y2="346.54" stroke="#555555" stroke-width="1" />
<text x="626.7" y="349.29" font-size="9.6" fill="#3a3a3a" text-anchor="start" textLength="26.35" lengthAdjust="spacingAndGlyphs" >127.10</text>
<line x1="622" y1="376.5" x2="625.2" y2="376.5" stroke="#555555" stroke-width="1" />
<text x="626.7" y="379.25" font-size="9.6" fill="#3a3a3a" text-anchor="start" textLength="16.85" lengthAdjust="spacingAndGlyphs" >1.32</text>
<line x1="622" y1="399.4" x2="625.2" y2="399.4" stroke="#555555" stroke-width="1" />
<text x="626.7" y="402.15" font-size="9.6" fill="#3a3a3a" text-anchor="start" textLength="16.85" lengthAdjust="spacingAndGlyphs" >0.45</text>
<line x1="622" y1="421.8" x2="625.2" y2="421.8" stroke="#555555" stroke-width="1" />
<text x="626.7" y="424.55" font-size="9.6" fill="#3a3a3a" text-anchor="start" textLength="20.15" lengthAdjust="spacingAndGlyphs" >-0.41</text>
<line x1="622" y1="444.3" x2="625.2" y2="444.3" stroke="#555555" stroke-width="1" />
<text x="626.7" y="447.05" font-size="9.6" fill="#3a3a3a" text-anchor="start" textLength="20.15" lengthAdjust="spacingAndGlyphs" >-1.28</text>
<line x1="622" y1="474.1" x2="625.2" y2="474.1" stroke="#555555" stroke-width="1" />
<text x="626.7" y="476.85" font-size="9.6" fill="#3a3a3a" text-anchor="start" textLength="21.6" lengthAdjust="spacingAndGlyphs" >96.96</text>
<line x1="622" y1="496.6" x2="625.2" y2="496.6" stroke="#555555" stroke-width="1" />
<text x="626.7" y="499.35" font-size="9.6" fill="#3a3a3a" text-anchor="start" textLength="21.6" lengthAdjust="spacingAndGlyphs" >65.31</text>
<line x1="622" y1="519" x2="625.2" y2="519" stroke="#555555" stroke-width="1" />
<text x="626.7" y="521.75" font-size="9.6" fill="#3a3a3a" text-anchor="start" textLength="21.6" lengthAdjust="spacingAndGlyphs" >33.67</text>
<line x1="622" y1="541.9" x2="625.2" y2="541.9" stroke="#555555" stroke-width="1" />
<text x="626.7" y="544.65" font-size="9.6" fill="#3a3a3a" text-anchor="start" textLength="16.85" lengthAdjust="spacingAndGlyphs" >2.02</text>
<line x1="622" y1="571.5" x2="625.2" y2="571.5" stroke="#555555" stroke-width="1" />
<text x="626.7" y="574.25" font-size="9.6" fill="#3a3a3a" text-anchor="start" textLength="21.6" lengthAdjust="spacingAndGlyphs" >93.04</text>
<line x1="622" y1="594.3" x2="625.2" y2="594.3" stroke="#555555" stroke-width="1" />
<text x="626.7" y="597.05" font-size="9.6" fill="#3a3a3a" text-anchor="start" textLength="21.6" lengthAdjust="spacingAndGlyphs" >61.75</text>
<line x1="622" y1="616.7" x2="625.2" y2="616.7" stroke="#555555" stroke-width="1" />
<text x="626.7" y="619.45" font-size="9.6" fill="#3a3a3a" text-anchor="start" textLength="21.6" lengthAdjust="spacingAndGlyphs" >30.45</text>
<line x1="622" y1="639.2" x2="625.2" y2="639.2" stroke="#555555" stroke-width="1" />
<text x="626.7" y="641.95" font-size="9.6" fill="#3a3a3a" text-anchor="start" textLength="20.15" lengthAdjust="spacingAndGlyphs" >-0.85</text>
<rect x="622.6" y="198.2" width="50.4" height="13.6" fill="#00a000" />
<line x1="622" y1="205.5" x2="625.5" y2="205.5" stroke="#ffffff" stroke-width="1" />
<text x="627.7" y="208.9" font-size="10.2" fill="#ffffff" text-anchor="start" textLength="26.5" lengthAdjust="spacingAndGlyphs" >134.69</text>
<line x1="37.5" y1="646.5" x2="37.5" y2="648.8" stroke="#666666" stroke-width="1" />
<line x1="433.5" y1="646.5" x2="433.5" y2="648.8" stroke="#666666" stroke-width="1" />
<text x="32.3" y="658.7" font-size="10.6" fill="#222222" text-anchor="start" textLength="9.6" lengthAdjust="spacingAndGlyphs" >12</text>
<text x="42.13" y="658.13" font-size="9.4" fill="#222222" text-anchor="start">月</text>
<text x="427.7" y="658.7" font-size="10.6" fill="#222222" text-anchor="start" textLength="4.8" lengthAdjust="spacingAndGlyphs" >2</text>
<text x="432.73" y="658.13" font-size="9.4" fill="#222222" text-anchor="start">月</text>
<text x="6.88" y="50.76" font-size="13.2" fill="#222222" text-anchor="start">开</text>
<text x="20.6" y="51" font-size="12.5" fill="#222222" text-anchor="start" stroke="#222222" stroke-width="0.3">:</text>
<text x="23.9" y="51" font-size="12.6" fill="#1fa81f" text-anchor="start" textLength="37.7" lengthAdjust="spacingAndGlyphs" stroke="#1fa81f" stroke-width="0.2">134.69</text>
<text x="70.35" y="50.89" font-size="13.2" fill="#222222" text-anchor="start">高</text>
<text x="84.6" y="51" font-size="12.5" fill="#222222" text-anchor="start" stroke="#222222" stroke-width="0.3">:</text>
<text x="87.7" y="51" font-size="12.6" fill="#1fa81f" text-anchor="start" textLength="36.5" lengthAdjust="spacingAndGlyphs" stroke="#1fa81f" stroke-width="0.2">134.91</text>
<text x="134.7" y="50.83" font-size="13.2" fill="#222222" text-anchor="start">低</text>
<text x="148" y="51" font-size="12.5" fill="#222222" text-anchor="start" stroke="#222222" stroke-width="0.3">:</text>
<text x="151" y="51" font-size="12.6" fill="#1fa81f" text-anchor="start" textLength="36.9" lengthAdjust="spacingAndGlyphs" stroke="#1fa81f" stroke-width="0.2">134.05</text>
<text x="197.66" y="50.87" font-size="13.2" fill="#222222" text-anchor="start">收</text>
<text x="211.4" y="51" font-size="12.5" fill="#222222" text-anchor="start" stroke="#222222" stroke-width="0.3">:</text>
<text x="214.4" y="51" font-size="12.6" fill="#1fa81f" text-anchor="start" textLength="38" lengthAdjust="spacingAndGlyphs" stroke="#1fa81f" stroke-width="0.2">134.69</text>
<text x="7.4" y="64.9" font-size="12.4" fill="#ec4277" text-anchor="start" textLength="72.8" lengthAdjust="spacingAndGlyphs" stroke="#ec4277" stroke-width="0.2">MA5: 134.69</text>
<text x="90.2" y="64.9" font-size="12.4" fill="#28b8d8" text-anchor="start" textLength="78.2" lengthAdjust="spacingAndGlyphs" stroke="#28b8d8" stroke-width="0.2">MA10: 134.11</text>
<text x="179.2" y="64.9" font-size="12.4" fill="#b058ca" text-anchor="start" textLength="79.4" lengthAdjust="spacingAndGlyphs" stroke="#b058ca" stroke-width="0.2">MA20: 132.40</text>
<text x="7.6" y="368.5" font-size="12" fill="#ee2222" text-anchor="start" textLength="65" lengthAdjust="spacingAndGlyphs" stroke="#ee2222" stroke-width="0.22">MACD:0.27</text>
<text x="82" y="368.5" font-size="12" fill="#3a8ff0" text-anchor="start" textLength="53.6" lengthAdjust="spacingAndGlyphs" stroke="#3a8ff0" stroke-width="0.22">DIFF:1.37</text>
<text x="145.6" y="368.5" font-size="12" fill="#f0781e" text-anchor="start" textLength="51.4" lengthAdjust="spacingAndGlyphs" stroke="#f0781e" stroke-width="0.22">DEA:1.24</text>
<text x="7.4" y="466.5" font-size="12" fill="#2ebbd9" text-anchor="start" textLength="43" lengthAdjust="spacingAndGlyphs" stroke="#2ebbd9" stroke-width="0.22">K:70.69</text>
<text x="59.8" y="466.5" font-size="12" fill="#9060d0" text-anchor="start" textLength="43.2" lengthAdjust="spacingAndGlyphs" stroke="#9060d0" stroke-width="0.22">D:63.35</text>
<text x="112.6" y="466.5" font-size="12" fill="#5cb85c" text-anchor="start" textLength="40.2" lengthAdjust="spacingAndGlyphs" stroke="#5cb85c" stroke-width="0.22">J:85.37</text>
<text x="7.6" y="564.3" font-size="12" fill="#f5701a" text-anchor="start" textLength="67.8" lengthAdjust="spacingAndGlyphs" stroke="#f5701a" stroke-width="0.22">RSI(6):68.98</text>
<text x="85.6" y="564.3" font-size="12" fill="#b04fd0" text-anchor="start" textLength="75.2" lengthAdjust="spacingAndGlyphs" stroke="#b04fd0" stroke-width="0.22">RSI(12):64.04</text>
<text x="169.6" y="564.3" font-size="12" fill="#5cb85c" text-anchor="start" textLength="76" lengthAdjust="spacingAndGlyphs" stroke="#5cb85c" stroke-width="0.22">RSI(24):60.56</text>
</svg>
</body></html>
